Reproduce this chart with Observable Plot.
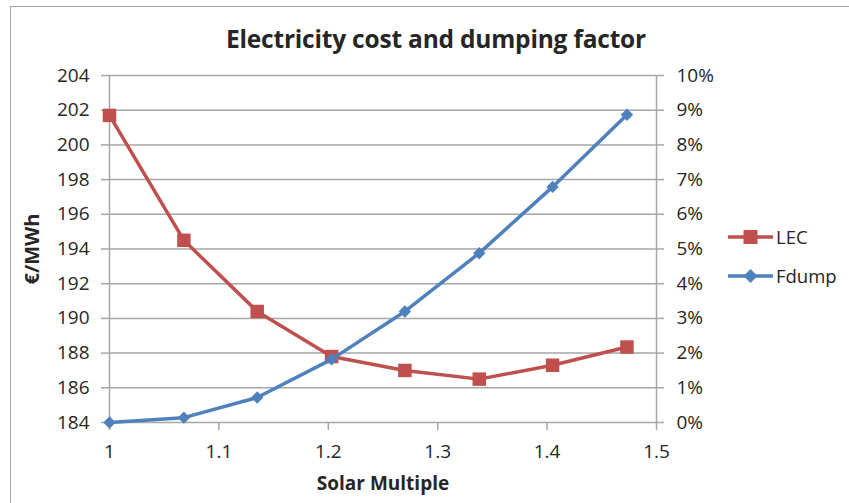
<!DOCTYPE html>
<html>
<head>
<meta charset="utf-8">
<script src="https://cdn.jsdelivr.net/npm/d3@7"></script>
<script src="https://cdn.jsdelivr.net/npm/@observablehq/plot@0.6"></script>
<style>
  html, body { margin: 0; padding: 0; background: #fff; }
  #chart { position: relative; width: 849px; height: 503px; overflow: hidden; font-family: "Open Sans", sans-serif; color: #262626; }
  #frame { position: absolute; left: 10px; top: 6px; width: 860px; height: 520px; border-top: 1.5px solid #a5a5a5; border-left: 1.5px solid #a5a5a5; box-sizing: border-box; }
  #title { position: absolute; left: 0; width: 872px; top: 22px; text-align: center; font-weight: 700; font-size: 24.5px; letter-spacing: -0.2px; }
  #legend { position: absolute; left: 728px; top: 217px; font-size: 18.5px; }
  .item { display: flex; align-items: center; height: 39px; }
  .item svg { margin-right: 3px; }
  #plot { position: absolute; left: 0; top: 0; }
</style>
</head>
<body>
<div id="chart">
  <div id="frame"></div>
  <div id="title">Electricity cost and dumping factor</div>
  <div id="plot"></div>
  <div id="legend"></div>
</div>
<script>
// Solar multiple (x) with levelised electricity cost (€/MWh) and dumping factor (%)
const solarMultiple = [1, 1.068, 1.135, 1.203, 1.27, 1.338, 1.405, 1.473];
const lec = [201.7, 194.5, 190.4, 187.8, 187.0, 186.5, 187.3, 188.35];
const fdump = [0, 0.14, 0.72, 1.82, 3.2, 4.88, 6.79, 8.87];
const leftTicks = [184, 186, 188, 190, 192, 194, 196, 198, 200, 202, 204];
const rightTicks = [0, 1, 2, 3, 4, 5, 6, 7, 8, 9, 10];
const xTicks = [1, 1.1, 1.2, 1.3, 1.4, 1.5];

const red = "#c0504d";
const blue = "#4f81bd";
const grid = "#a6a6a6";
const ink = "#262626";

// The right axis (0–10 %) shares the plot height with the left axis (184–204)
const pctToLeft = p => 184 + p * 2;

const lecRows = solarMultiple.map((x, i) => ({x, y: lec[i]}));
const fdRows = solarMultiple.map((x, i) => ({x, y: pctToLeft(fdump[i])}));

const chart = Plot.plot({
  width: 849,
  height: 503,
  marginLeft: 109,
  marginRight: 193,
  marginTop: 75,
  marginBottom: 81,
  style: {fontFamily: "Open Sans, sans-serif", fontSize: "19px", color: ink, background: "transparent"},
  x: {domain: [1, 1.5]},
  y: {domain: [184, 204]},
  marks: [
    Plot.ruleY(leftTicks, {stroke: grid, strokeWidth: 1.5}),
    Plot.ruleX([1, 1.5], {stroke: grid, strokeWidth: 1.5}),
    Plot.axisY({anchor: "left", ticks: leftTicks, tickSize: 8, tickPadding: 12, fontSize: 19, stroke: grid, strokeWidth: 1.5, label: null, fill: ink}),
    Plot.axisY({anchor: "right", ticks: rightTicks.map(pctToLeft), tickFormat: d => Math.round((d - 184) / 2) + "%", tickSize: 7, tickPadding: 13, fontSize: 19, stroke: grid, strokeWidth: 1.5, label: null, fill: ink}),
    Plot.axisX({ticks: xTicks, tickFormat: d => String(+d.toFixed(1)), tickSize: 8, tickPadding: 14, fontSize: 19, stroke: grid, strokeWidth: 1.5, label: null, fill: ink}),
    Plot.text(["€/MWh"], {frameAnchor: "left", textAnchor: "middle", dx: -77, rotate: -90, fontWeight: "bold", fontSize: 20, fill: ink}),
    Plot.text(["Solar Multiple"], {frameAnchor: "bottom", dy: 67, fontWeight: "bold", fontSize: 19, fill: ink}),
    Plot.line(lecRows, {x: "x", y: "y", stroke: red, strokeWidth: 3.5}),
    Plot.dot(lecRows, {x: "x", y: "y", symbol: "square", r: 7.6, fill: red, stroke: null}),
    Plot.line(fdRows, {x: "x", y: "y", stroke: blue, strokeWidth: 3.5}),
    Plot.dot(fdRows, {x: "x", y: "y", symbol: "diamond2", r: 5.6, fill: blue, stroke: null})
  ]
});
document.getElementById("plot").appendChild(chart);

// Legend entries, drawn as short line-with-marker swatches
const legendItems = [
  {name: "LEC", color: red, shape: "square"},
  {name: "Fdump", color: blue, shape: "diamond"}
];
const legend = d3.select("#legend");
for (const it of legendItems) {
  const row = legend.append("div").attr("class", "item");
  const s = row.append("svg").attr("width", 45).attr("height", 20);
  s.append("line").attr("x1", 1).attr("x2", 44).attr("y1", 10).attr("y2", 10)
    .attr("stroke", it.color).attr("stroke-width", 3.5).attr("stroke-linecap", "round");
  if (it.shape === "square") {
    s.append("rect").attr("x", 15.5).attr("y", 3).attr("width", 14).attr("height", 14).attr("fill", it.color);
  } else {
    s.append("path").attr("d", "M22.5,3L29.5,10L22.5,17L15.5,10Z").attr("fill", it.color);
  }
  row.append("span").text(it.name);
}
</script>
</body>
</html>
